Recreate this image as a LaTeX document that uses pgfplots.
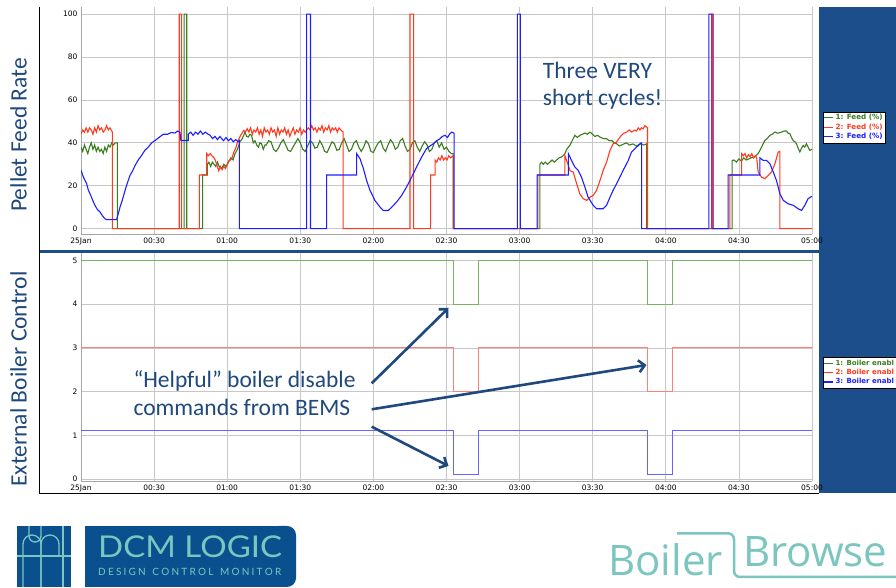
\documentclass[border=0pt]{standalone}
\usepackage{fontspec}
\usepackage{pgfplots}
\pgfplotsset{compat=1.18}
\usetikzlibrary{arrows.meta}
\newfontfamily\tickfont{DejaVu Sans}
\newfontfamily\calibri{Carlito}
\newfontfamily\latofont{Lato}
\newfontfamily\osans{Open Sans}

\definecolor{txtblue}{HTML}{1F497D}
\definecolor{panel}{HTML}{1B4E8A}
\definecolor{gA}{RGB}{58,125,30}
\definecolor{rA}{RGB}{255,58,30}
\definecolor{bA}{RGB}{30,30,255}
\definecolor{gB}{RGB}{120,178,98}
\definecolor{rB}{RGB}{255,128,118}
\definecolor{bB}{RGB}{100,100,255}
\definecolor{logoblue}{HTML}{0B508E}
\definecolor{logoteal}{HTML}{7BC6BE}

\pgfplotsset{
  boilerchart/.style={
    scale only axis, width=731bp, xmin=0, xmax=300,
    xtick={0,30,...,300},
    xticklabels={25Jan,00:30,01:00,01:30,02:00,02:30,03:00,03:30,04:00,04:30,05:00},
    grid=major, major grid style={draw=black!22, line width=0.7bp},
    axis x line*=bottom, axis y line*=left,
    axis line style={draw=black!35, line width=0.7bp},
    major tick length=0pt,
    tick label style={font=\tickfont\fontsize{7.5bp}{9bp}\selectfont, text=black},
    /pgf/number format/assume math mode=true,
    every axis plot/.append style={line width=1.1bp, line join=miter},
    legend cell align=left,
    legend image code/.code={\draw[##1, line width=1.2bp] (0bp,0bp) -- (9bp,0bp);},
  }
}

\begin{document}
\begin{tikzpicture}[x=1bp,y=1bp]
\fill[white] (0,0) rectangle (896,588);
% frame of the chart image
\fill[panel] (819,95) rectangle (896,581.3);
\fill[panel] (40,335) rectangle (819,338);
\draw[black, line width=1bp] (39.5,581.3) -- (39.5,94) -- (819,94);

% ---------- feed rate ----------
\begin{axis}[boilerchart, at={(81bp,353.5bp)}, anchor=south west,
  height=227.5bp, ymin=-2.7, ymax=103.3, ytick={0,20,...,100},
  legend style={at={(1.01463,0.5398)}, anchor=north west, draw=black, fill=white,
    font=\tickfont\bfseries\fontsize{7.2bp}{9bp}\selectfont, inner sep=0.5bp, row sep=-1.5bp}]
\addlegendimage{gA}
\addlegendimage{rA}
\addlegendimage{bA}
\addlegendentry{\textcolor{gA}{1: Feed (\%)}}
\addlegendentry{\textcolor{rA}{2: Feed (\%)}}
\addlegendentry{\textcolor{bA}{3: Feed (\%)}}
% 1: Feed
\addplot[gA, forget plot] coordinates {
(0,38) (0.7,36) (1.4,39) (2.1,37) (2.8,35) (3.5,38) (4.2,40) (4.9,37) (5.6,39) (6.3,36) (7,38) (7.7,36) (8.4,37) (9.1,35) (9.8,38) (10.5,36) (11.2,39) (11.9,38) (12.6,40) (13.3,39) (14,40) (14.9,40) (14.9,0)
(42.3,0) (42.3,100) (43.4,100) (43.4,0) (49.9,0) (49.9,25) (51.8,25) (51.8,30)
(52.5,31) (53.2,29) (53.9,31) (54.6,30) (55.3,29) (56,31) (56.7,29) (57.7,28) (58.6,30) (59.5,29) (60.5,31) (61.5,33) (62.4,32) (63.2,35) (64.2,37) (65.2,40.4) (66.2,42) (67.3,45) (68,43) (68.7,42.7) (69.3,44) (70,43.5) (70.7,40) (71.4,41) (72.1,39) (72.8,38) (73.4,40) (74.1,39.6) (74.8,37) (75.5,39)
(76,39) (77,41) (78,40.5) (79,37) (80,36) (81,37.5) (82,40) (83,41.5) (84,39) (85,36.5) (86,36) (87,38) (88,40) (89,42) (90,40) (91,37) (92,36) (93,38.5) (94,41) (95,40) (96,37.5) (97,38) (98,41) (99,39) (100,36) (101,35.5) (102,38) (103,40.5) (104,39.5) (105,36.5) (106,37) (107,40) (108,42) (109,39) (110,36) (111,37) (112,40) (113,41) (114,38) (115,36) (116,38) (117,41) (118,39.5) (119,36) (120,35.5) (121,38) (122,40) (123,41) (124,37.5) (125,36) (126,39) (127,41.5) (128,40) (129,37) (130,38) (131,41) (132,42) (133,38.5) (134,36) (135,37) (136,40) (137,41) (138,38) (139,36) (140,38.5) (141,40.5) (142,39) (143,36) (144,37) (145,40) (146,41) (147,38) (148,40) (149,37) (150,38) (151,36) (152,35) (152.7,35) (152.7,0)
(188.3,0) (188.3,30) (189,31) (189.7,30) (190.5,31) (191.4,30) (192.4,31) (193.3,32) (194.2,31) (195.2,32) (196.2,33) (197.2,33.4) (197.9,34) (198.6,35) (199.3,37) (200,38) (200.7,39) (201.3,40.4) (202,42) (202.7,43.5) (203.7,42.5) (204.7,43.5) (205.7,44) (206.8,44.6) (207.8,44) (208.9,45) (209.9,44) (210.9,43) (212,43.5) (213,42.7) (214.3,42) (215.7,41.9) (216.8,41) (217.8,41.1) (218.8,40) (219.8,39.6) (220.9,38.5) (221.9,39) (223,39.6) (223.9,40) (225,39) (226.5,39.5) (228,38.5) (229.5,39.5) (231,39) (232.1,39.5) (232.1,0)
(267.2,0) (267.2,31.8) (268,32) (269,31) (270,32.5) (271,31.5) (272,33) (273,32) (274,32.5) (275,33) (276.5,33.5) (277.9,35) (279.3,38) (280.6,41.1) (281.6,42) (282.7,43.5) (283.7,44) (284.8,45) (286,44.5) (287.5,45) (288.5,45.5) (289.5,45.5) (290.2,44.5) (290.9,44.3) (291.6,42.5) (292.3,41) (293,40.5) (293.6,39.6) (294.3,37.5) (295,35.7) (295.7,37.5) (296.4,38.8) (297,38) (297.7,39.6) (298.4,38) (299.1,36.5) (300,37)
};
% 2: Feed
\addplot[rA, forget plot] coordinates {
(0,44) (0.7,46) (1.4,45) (2.1,47) (2.8,45) (3.5,47) (4.2,46) (4.9,44) (5.6,47) (6.3,45) (7,48) (7.7,46) (8.4,47) (9.1,45) (9.8,46) (10.5,48) (11.2,46) (11.9,47) (12.9,45) (12.9,0)
(40.3,0) (40.3,100) (41.3,100) (41.3,0) (48.6,0) (48.6,25) (51.6,25) (51.6,35) (52.3,34) (53,35) (53.7,34) (54.4,33.4) (55.1,32) (55.8,29.5) (56.5,27) (57.2,29) (57.9,27.5) (58.6,29) (59.3,28) (60,30) (60.7,31.8) (61.4,32) (62.1,33.4) (62.8,36) (63.5,37.5) (64.2,40.4) (65.5,43.5) (66.8,45.8) (67.5,45) (68.2,46.6) (68.9,45)
(69.6,47) (70.3,44) (71,46) (71.7,45) (72.4,47) (73.1,44) (73.8,46) (74.5,43) (75.2,47) (75.9,45) (76.6,46) (77.3,44) (78,47) (78.7,45) (79.4,46) (80.1,43) (80.8,47) (81.5,44) (82.2,46) (82.9,45) (83.6,47) (84.3,44) (85,46) (85.7,43) (86.4,45) (87.1,47) (87.8,44) (88.5,46) (89.2,45) (89.9,47) (90.6,44) (91.3,46) (92,45) (92.6,46)
(93.3,47) (94,46) (94.7,48) (95.4,46) (96.1,47) (96.8,45) (97.5,47) (98.2,46) (98.9,48) (99.6,45) (100.3,47) (101,46) (101.7,48) (102.4,45) (103.1,47) (103.8,46) (104.5,47) (105.2,45) (105.9,47) (106.6,46) (107.6,45) (107.6,0)
(135,0) (135,100) (136.5,100) (136.5,0) (143.5,0) (143.5,25) (145.3,25) (145.3,32) (146,31) (146.7,33) (147.4,32) (148.1,34) (148.8,32) (149.5,33) (150.2,32) (150.9,34) (151.6,33) (152.8,34) (152.8,0)
(187.5,0) (187.5,25) (198.6,25) (198.6,34) (200,29.5) (200.7,27) (202,26.4) (203.4,21) (204.7,16.3) (206.1,14) (207.5,13.2) (208.9,14.7) (210.2,15.5) (211.6,17.9) (213,22.5) (214.3,27.2) (215.7,31) (217.1,36.5) (218.4,39.6) (219.8,40.4) (221.2,42.7) (222.5,44.3) (223.9,45) (225,46) (226,45) (227.3,46) (228,45.5) (228.7,47) (229.4,46) (230,47) (230.7,46.5) (231.4,48) (232.5,47) (232.5,0)
(258.8,0) (258.8,100) (259.5,100) (259.5,0) (266.3,0) (266.3,25) (271.1,25) (271.1,35) (271.8,34) (272.5,35) (273.2,33) (273.9,34.5) (274.6,33.5) (275.3,35) (276,33) (276.7,34) (277.3,33) (277.9,26.4) (279.3,24) (280.6,23.3) (282,24.8) (283.4,26.4) (284.8,30.3) (286.1,35.7) (286.8,36) (286.8,0) (300,0)
};
% 3: Feed
\addplot[bA, forget plot] coordinates {
(0,27.2) (1,24) (2.3,21) (3,18) (3.7,16.3) (4.7,13.5) (5.7,10.9) (6.7,9) (7.8,7.8) (8.8,6) (9.8,4.7) (10.5,4.2) (14.6,4.2) (15.3,7) (16,10) (17,13.5) (18.1,17.9) (19.1,21.5) (20.1,24.8) (21.2,27) (22.2,29.5) (23.5,32) (24.9,34.2) (26.2,36.5) (27.6,38) (29,40) (30.4,41.1) (32,42.5) (33.8,44) (35.5,44) (37,44.8) (38.6,44.6) (39.6,45.5) (40.6,45) (41,41.1) (44,41.1) (44,44) (45,45) (46,43.5) (47,45) (48,44) (49,45.5) (50,44) (51,45) (52.2,44) (53,43.5) (54,42) (55,43) (56,41.5) (57,43) (57.7,42) (58.5,41) (59.5,42.5) (60.5,41) (61.5,42) (62.5,40.5) (63.5,41.5) (64.6,40.5) (65,41) (65,0)
(92.6,0) (92.6,100) (94.2,100) (94.2,0) (100.8,0) (100.8,25) (113.1,25) (113.1,35) (114.5,32.6) (115.9,28) (117.2,22.5) (118.6,17.9) (120.6,13.2) (122.7,10.1) (124.1,8.5) (126.1,8.5) (127.5,10) (129.5,12.4) (131.6,15.5) (133.6,19.4) (135.7,24) (137.7,28.7) (139.8,33.4) (141.8,37.3) (143.2,38.5) (144.6,39.6) (146,41) (147.3,41.9) (148.3,43) (149.4,43.5) (150.4,42.5) (151.4,44.3) (152.2,45) (153.1,44.5) (153.1,0)
(179.1,0) (179.1,100) (180.3,100) (180.3,0) (187.2,0) (187.2,25) (200,25) (200,35) (201.3,31.8) (202.7,28.7) (204,27.2) (205.4,24) (206.8,19.4) (208.1,14.7) (210.2,10.9) (211.6,9.3) (214.3,9.3) (215.7,10.9) (217.1,14.7) (218.4,17.9) (220.5,22.5) (222.5,27.2) (224.6,31.8) (225.9,35.7) (228,38) (229.8,40) (230.1,40) (230.1,0)
(257.7,0) (257.7,100) (259,100) (259,0) (265.6,0) (265.6,25) (278.6,25) (278.6,33) (280,31.8) (281.3,31.8) (282.7,30.3) (284.1,26.4) (285.4,22.5) (286.8,16.3) (288.2,13.2) (290.2,11.6) (292.3,10.9) (294.3,9.3) (295.7,8.5) (297.1,11) (298.4,14) (299.8,15) (300,15)
};
\end{axis}

% ---------- boiler enable ----------
\begin{axis}[boilerchart, at={(81bp,107bp)}, anchor=south west,
  height=227.7bp, ymin=-0.046, ymax=5.165, ytick={0,1,...,5},
  legend style={at={(1.01463,0.5433)}, anchor=north west, draw=black, fill=white,
    font=\tickfont\bfseries\fontsize{7bp}{9bp}\selectfont, inner sep=0.5bp, row sep=-1.5bp}]
\addlegendimage{gA}
\addlegendimage{rA}
\addlegendimage{bA}
\addlegendentry{\textcolor{gA}{1: Boiler enabl}}
\addlegendentry{\textcolor{rA}{2: Boiler enabl}}
\addlegendentry{\textcolor{bA}{3: Boiler enabl}}
\addplot[gB, forget plot] coordinates {(0,5) (152.7,5) (152.7,4) (163.3,4) (163.3,5) (232.4,5) (232.4,4) (242.6,4) (242.6,5) (300,5)};
\addplot[rB, forget plot] coordinates {(0,3) (152.7,3) (152.7,2) (163.3,2) (163.3,3) (232.4,3) (232.4,2) (242.6,2) (242.6,3) (300,3)};
\addplot[bB, forget plot] coordinates {(0,1.1) (152.7,1.1) (152.7,0.1) (163.3,0.1) (163.3,1.1) (232.4,1.1) (232.4,0.1) (242.6,0.1) (242.6,1.1) (300,1.1)};
\end{axis}

% ---------- annotations ----------
\node[rotate=90, anchor=base, text=txtblue, font=\calibri\fontsize{23.5bp}{28bp}\selectfont] at (26.5,453) {Pellet Feed Rate};
\node[rotate=90, anchor=base, text=txtblue, font=\calibri\fontsize{23.5bp}{28bp}\selectfont] at (26.5,209) {External Boiler Control};
\begin{scope}[every node/.style={anchor=base west, inner sep=0pt, text=txtblue, font=\calibri\fontsize{23.5bp}{28bp}\selectfont}]
\node at (542.7,509.7) {Three VERY};
\node at (542.7,482) {short cycles!};
\node at (133.3,200.3) {“Helpful” boiler disable};
\node at (133.3,172.3) {commands from BEMS};
\end{scope}
\begin{scope}[draw=txtblue, line width=2.6bp, -{Straight Barb[length=6bp,width=12bp]}]
\draw[txtblue] (371.7,204.7) -- (448.5,280);
\draw[txtblue] (371.7,178.7) -- (646.5,223);
\draw[txtblue] (371.7,161.3) -- (448.5,122);
\end{scope}

% ---------- logos ----------
\fill[logoblue] (17,1) rectangle (71,62);
\begin{scope}[logoteal, line width=1.3bp]
\draw (17,32) -- (71,32);
\draw (23,1) -- (23,44) arc (180:0:9) -- (41,1);
\draw (41,1) -- (41,44) arc (180:0:9) -- (59,32);
\draw (29,62) -- (29,52) arc (180:360:6) -- (41,62);
\draw (63,1) -- (63,62);
\end{scope}
\fill[logoblue] (85,1) rectangle (282,62);
\fill[logoblue, rounded corners=9bp] (270,1) rectangle (296,62);
\node[anchor=base west, inner sep=0pt, text=logoteal, font=\latofont\fontsize{30bp}{30bp}\selectfont, xscale=1.1] at (98,30) {DCM LOGIC};
\node[anchor=base west, inner sep=0pt, text=logoteal, font=\latofont\fontsize{10bp}{10bp}\selectfont] at (98,12)
  {\makebox[183bp][s]{D\hfill E\hfill S\hfill I\hfill G\hfill N\hfill\hfill\hfill C\hfill O\hfill N\hfill T\hfill R\hfill O\hfill L\hfill\hfill\hfill M\hfill O\hfill N\hfill I\hfill T\hfill O\hfill R}};
\node[anchor=base west, inner sep=0pt, text=logoteal, font=\osans\fontsize{42bp}{42bp}\selectfont] at (608,12) {Boiler};
\node[anchor=base west, inner sep=0pt, text=logoteal, font=\osans\fontsize{42bp}{42bp}\selectfont] at (743,21) {Browse};
\draw[logoteal, line width=2.5bp, rounded corners=6bp] (677,54.7) -- (734,54.7) -- (734,11) -- (900,11);

\pgfresetboundingbox
\path[use as bounding box] (0,0) rectangle (896,588);
\end{tikzpicture}
\end{document}
